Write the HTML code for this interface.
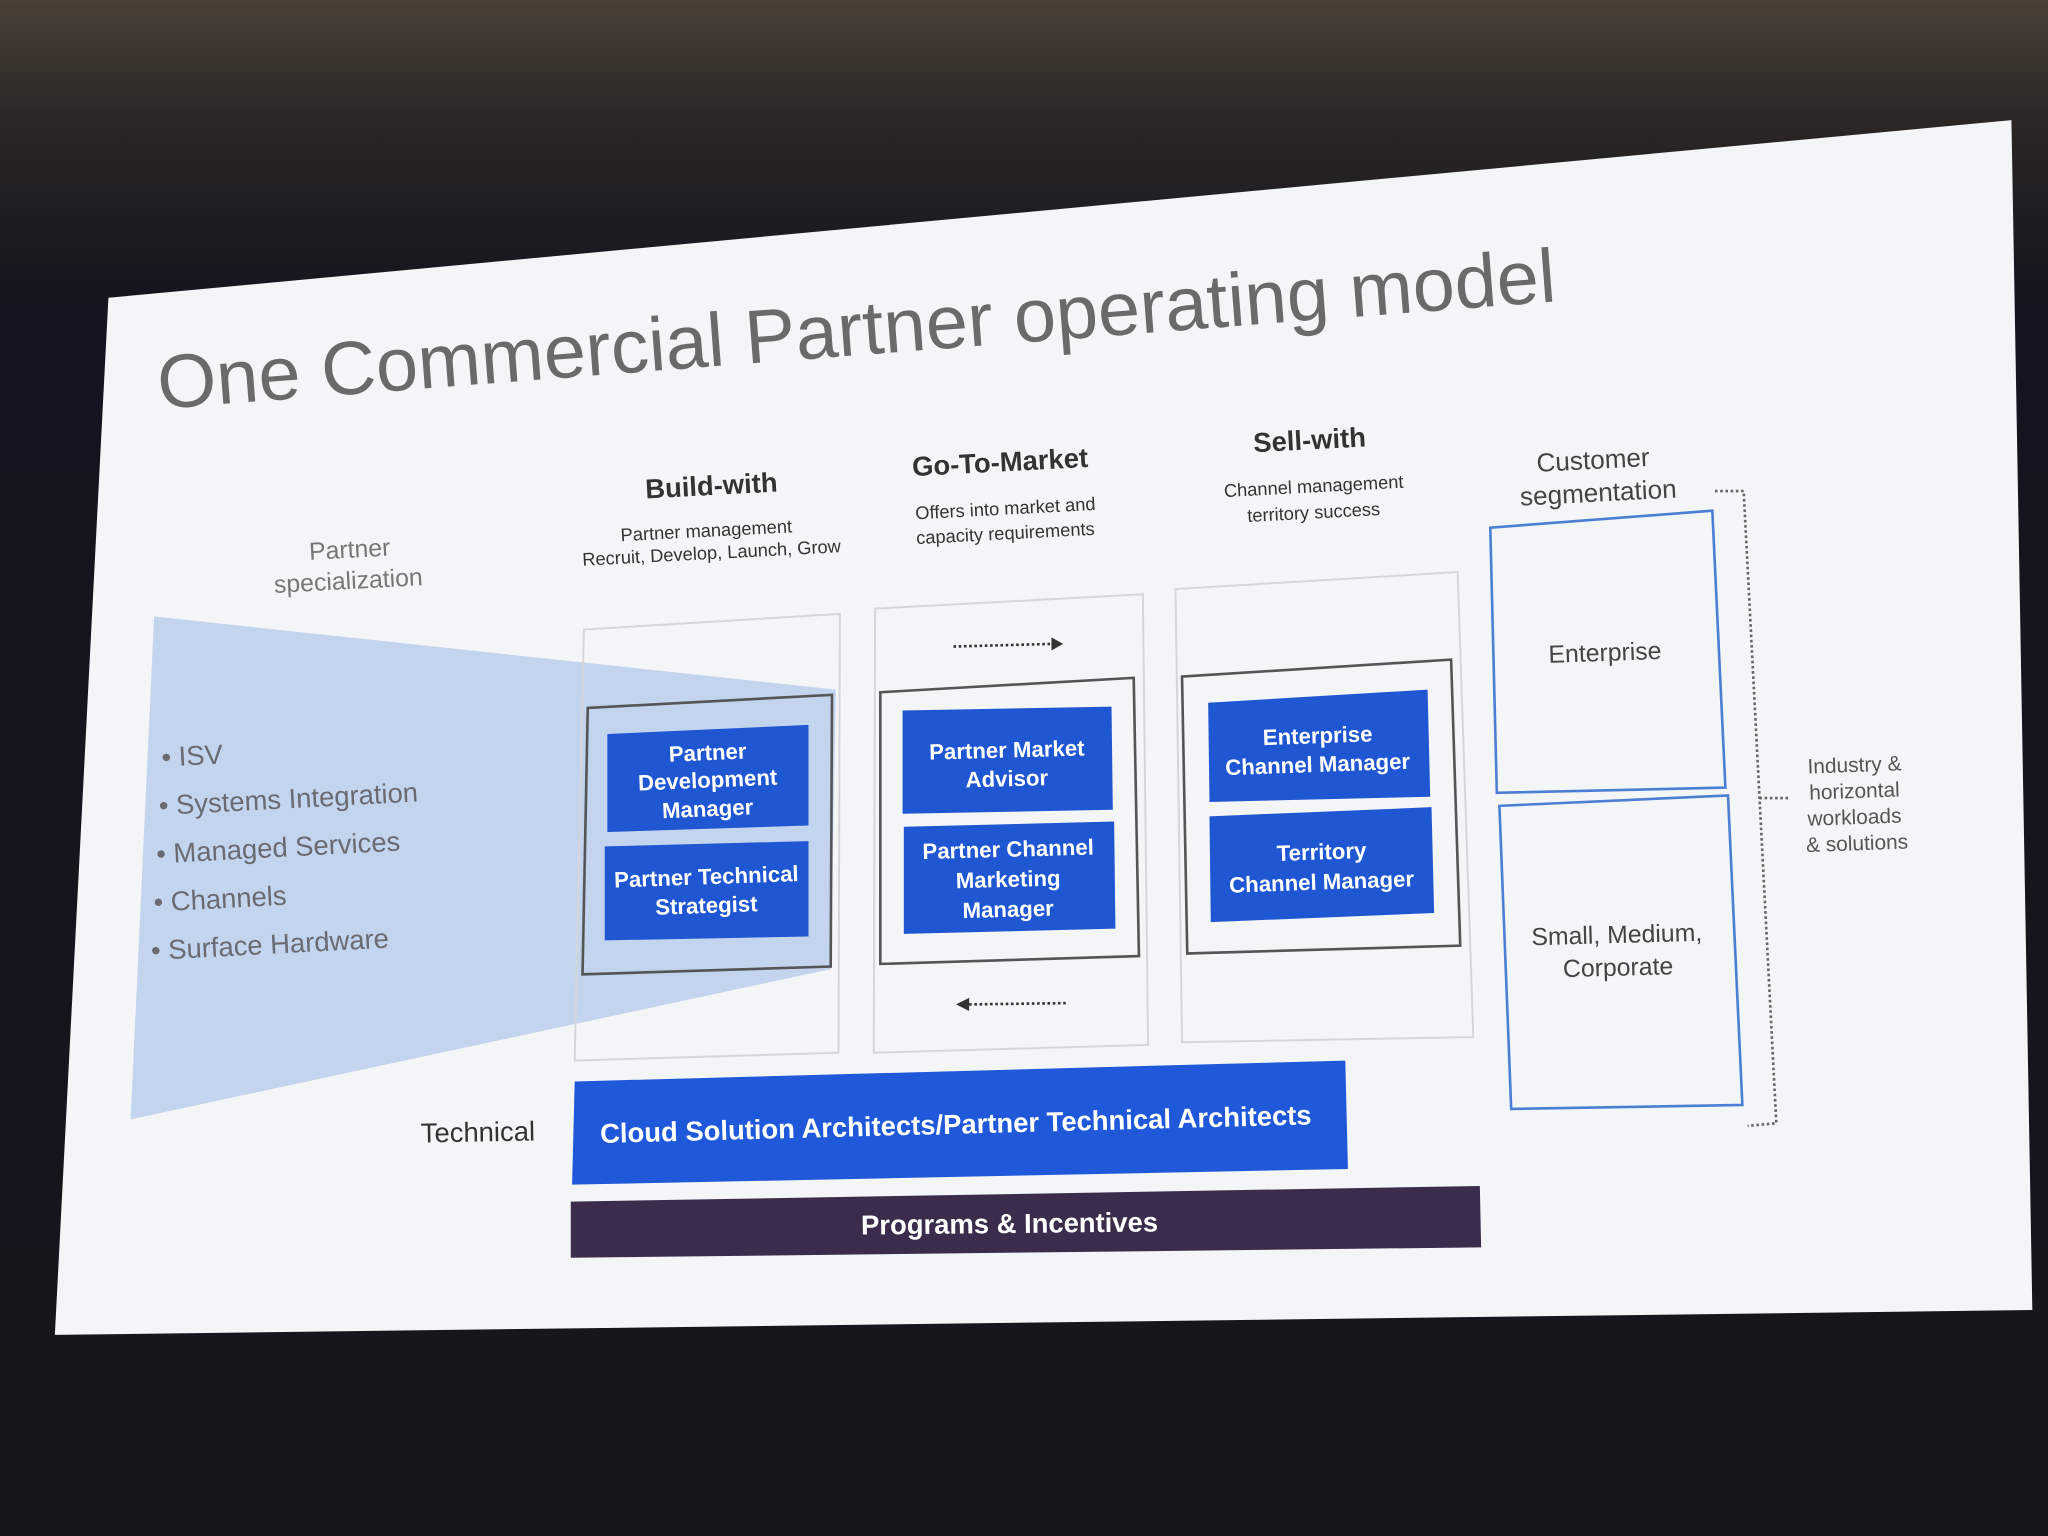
<!DOCTYPE html>
<html><head><meta charset="utf-8"><style>
html,body{margin:0;padding:0;background:#12141c;}
svg{display:block;}
text{font-family:"Liberation Sans",sans-serif;}
</style></head><body>
<svg width="2048" height="1536" viewBox="0 0 1568 1176" preserveAspectRatio="none" xmlns="http://www.w3.org/2000/svg">
<defs>
<linearGradient id="bg" x1="0" y1="0" x2="0" y2="1">
<stop offset="0" stop-color="#4a4038"/><stop offset="0.08" stop-color="#2a2624"/><stop offset="0.2" stop-color="#12151f"/><stop offset="1" stop-color="#16171c"/>
</linearGradient>
</defs>
<rect width="1568" height="1176" fill="url(#bg)"/>
<polygon points="83,228 1540,92 1556,1003 42,1022" fill="#f4f5f6"/>
<!-- title -->
<text x="0" y="0" font-size="58" fill="#6a6a6a" transform="translate(122,313) rotate(-4.4)">One Commercial Partner operating model</text>
<!-- light blue trapezoid -->
<polygon points="118,472 640,528 636,742 100,857" fill="#c3d4ee"/>
<!-- build-with -->
<polygon points="447,482 643,470 642,806 440,812" fill="none" stroke="#d4d6da" stroke-width="1.5"/>
<polygon points="450,542 637,532 636,740 446,746" fill="none" stroke="#555" stroke-width="2"/>
<polygon points="465,562 619,555 619,632 465,637" fill="#1f56d2"/>
<polygon points="463,648 619,644 619,717 463,720" fill="#1f56d2"/>
<!-- GTM -->
<polygon points="670,466 875,455 879,800 669,806" fill="none" stroke="#d4d6da" stroke-width="1.5"/>
<polygon points="674,530 868,519 872,732 674,738" fill="none" stroke="#555" stroke-width="2"/>
<polygon points="691,544 851,541 852,620 691,623" fill="#1f56d2"/>
<polygon points="692,633 853,629 854,711 692,715" fill="#1f56d2"/>
<line x1="730" y1="495" x2="805" y2="493" stroke="#333" stroke-width="2" stroke-dasharray="2,2"/>
<polygon points="805,488 814,493 805,498" fill="#333"/>
<line x1="742" y1="769" x2="817" y2="768" stroke="#333" stroke-width="2" stroke-dasharray="2,2"/>
<polygon points="742,764 732,769 742,774" fill="#333"/>
<!-- Sell-with -->
<polygon points="900,451 1116,438 1128,794 905,798" fill="none" stroke="#d4d6da" stroke-width="1.5"/>
<polygon points="905,518 1111,505 1118,724 909,730" fill="none" stroke="#555" stroke-width="2"/>
<polygon points="925,538 1093,528 1095,610 926,614" fill="#1f56d2"/>
<polygon points="926,625 1096,618 1098,699 927,706" fill="#1f56d2"/>
<!-- segmentation -->
<polygon points="1141,404 1311,391 1321,603 1146,607" fill="none" stroke="#4a7fd4" stroke-width="2"/>
<polygon points="1148,617 1323,609 1334,846 1157,849" fill="none" stroke="#4a7fd4" stroke-width="2"/>
<polyline points="1313,376 1335,376 1360,860 1338,862" fill="none" stroke="#666" stroke-width="2" stroke-dasharray="2,2"/>
<line x1="1347" y1="611" x2="1370" y2="611" stroke="#666" stroke-width="2" stroke-dasharray="2,2"/>
<!-- bars -->
<polygon points="440,828 1030,812 1032,895 438,907" fill="#1f59da"/>
<polygon points="437,920 1133,908 1134,955 437,963" fill="#3b2c4c"/>
<g fill="#fff" text-anchor="middle" font-weight="bold">
<text font-size="21" transform="translate(732,868) rotate(-1.5)">Cloud Solution Architects/Partner Technical Architects</text>
<text font-size="21" transform="translate(773,944) rotate(-0.6)">Programs &amp; Incentives</text>
<g font-size="17">
<text transform="translate(542,582) rotate(-2.5)">Partner</text>
<text transform="translate(542,603) rotate(-2.5)">Development</text>
<text transform="translate(542,625) rotate(-2.5)">Manager</text>
<text transform="translate(541,677) rotate(-2)">Partner Technical</text>
<text transform="translate(541,699) rotate(-2)">Strategist</text>
<text transform="translate(771,580) rotate(-1.5)">Partner Market</text>
<text transform="translate(771,602) rotate(-1.5)">Advisor</text>
<text transform="translate(772,656) rotate(-1.5)">Partner Channel</text>
<text transform="translate(772,679) rotate(-1.5)">Marketing</text>
<text transform="translate(772,702) rotate(-1.5)">Manager</text>
<text transform="translate(1009,569) rotate(-2)">Enterprise</text>
<text transform="translate(1009,591) rotate(-2)">Channel Manager</text>
<text transform="translate(1012,658) rotate(-2)">Territory</text>
<text transform="translate(1012,681) rotate(-2)">Channel Manager</text>
</g></g>
<g fill="#333" text-anchor="middle">
<text font-size="21" font-weight="bold" transform="translate(545,379) rotate(-3)">Build-with</text>
<text font-size="21" font-weight="bold" transform="translate(766,361) rotate(-3)">Go-To-Market</text>
<text font-size="21" font-weight="bold" transform="translate(1003,344) rotate(-3)">Sell-with</text>
<text font-size="21" transform="translate(366,874) rotate(-1)">Technical</text>
<g font-size="14">
<text transform="translate(541,411) rotate(-3)">Partner management</text>
<text transform="translate(545,428) rotate(-3)">Recruit, Develop, Launch, Grow</text>
<text transform="translate(770,394) rotate(-3)">Offers into market and</text>
<text transform="translate(770,413) rotate(-3)">capacity requirements</text>
<text transform="translate(1006,377) rotate(-3)">Channel management</text>
<text transform="translate(1006,397) rotate(-3)">territory success</text>
</g>
<g fill="#444" font-size="20">
<text transform="translate(1220,359) rotate(-3)">Customer</text>
<text transform="translate(1224,384) rotate(-3)">segmentation</text>
<text font-size="19" transform="translate(1229,506) rotate(-2)">Enterprise</text>
<text font-size="19" transform="translate(1238,722) rotate(-1.5)">Small, Medium,</text>
<text font-size="19" transform="translate(1239,747) rotate(-1.5)">Corporate</text>
</g>
<g fill="#555" font-size="16">
<text transform="translate(1420,591) rotate(-2)">Industry &amp;</text>
<text transform="translate(1420,611) rotate(-2)">horizontal</text>
<text transform="translate(1420,631) rotate(-2)">workloads</text>
<text transform="translate(1422,651) rotate(-2)">&amp; solutions</text>
</g>
<g fill="#777" font-size="19">
<text transform="translate(268,427) rotate(-3)">Partner</text>
<text transform="translate(267,451) rotate(-3)">specialization</text>
</g>
</g>
<g fill="#6a6a70" font-size="21">
<text transform="translate(124,587) rotate(-3)">•  ISV</text>
<text transform="translate(122,624) rotate(-3)">•  Systems Integration</text>
<text transform="translate(120,661) rotate(-3)">•  Managed Services</text>
<text transform="translate(118,698) rotate(-3)">•  Channels</text>
<text transform="translate(116,735) rotate(-3)">•  Surface Hardware</text>
</g>
</svg>
</body></html>
